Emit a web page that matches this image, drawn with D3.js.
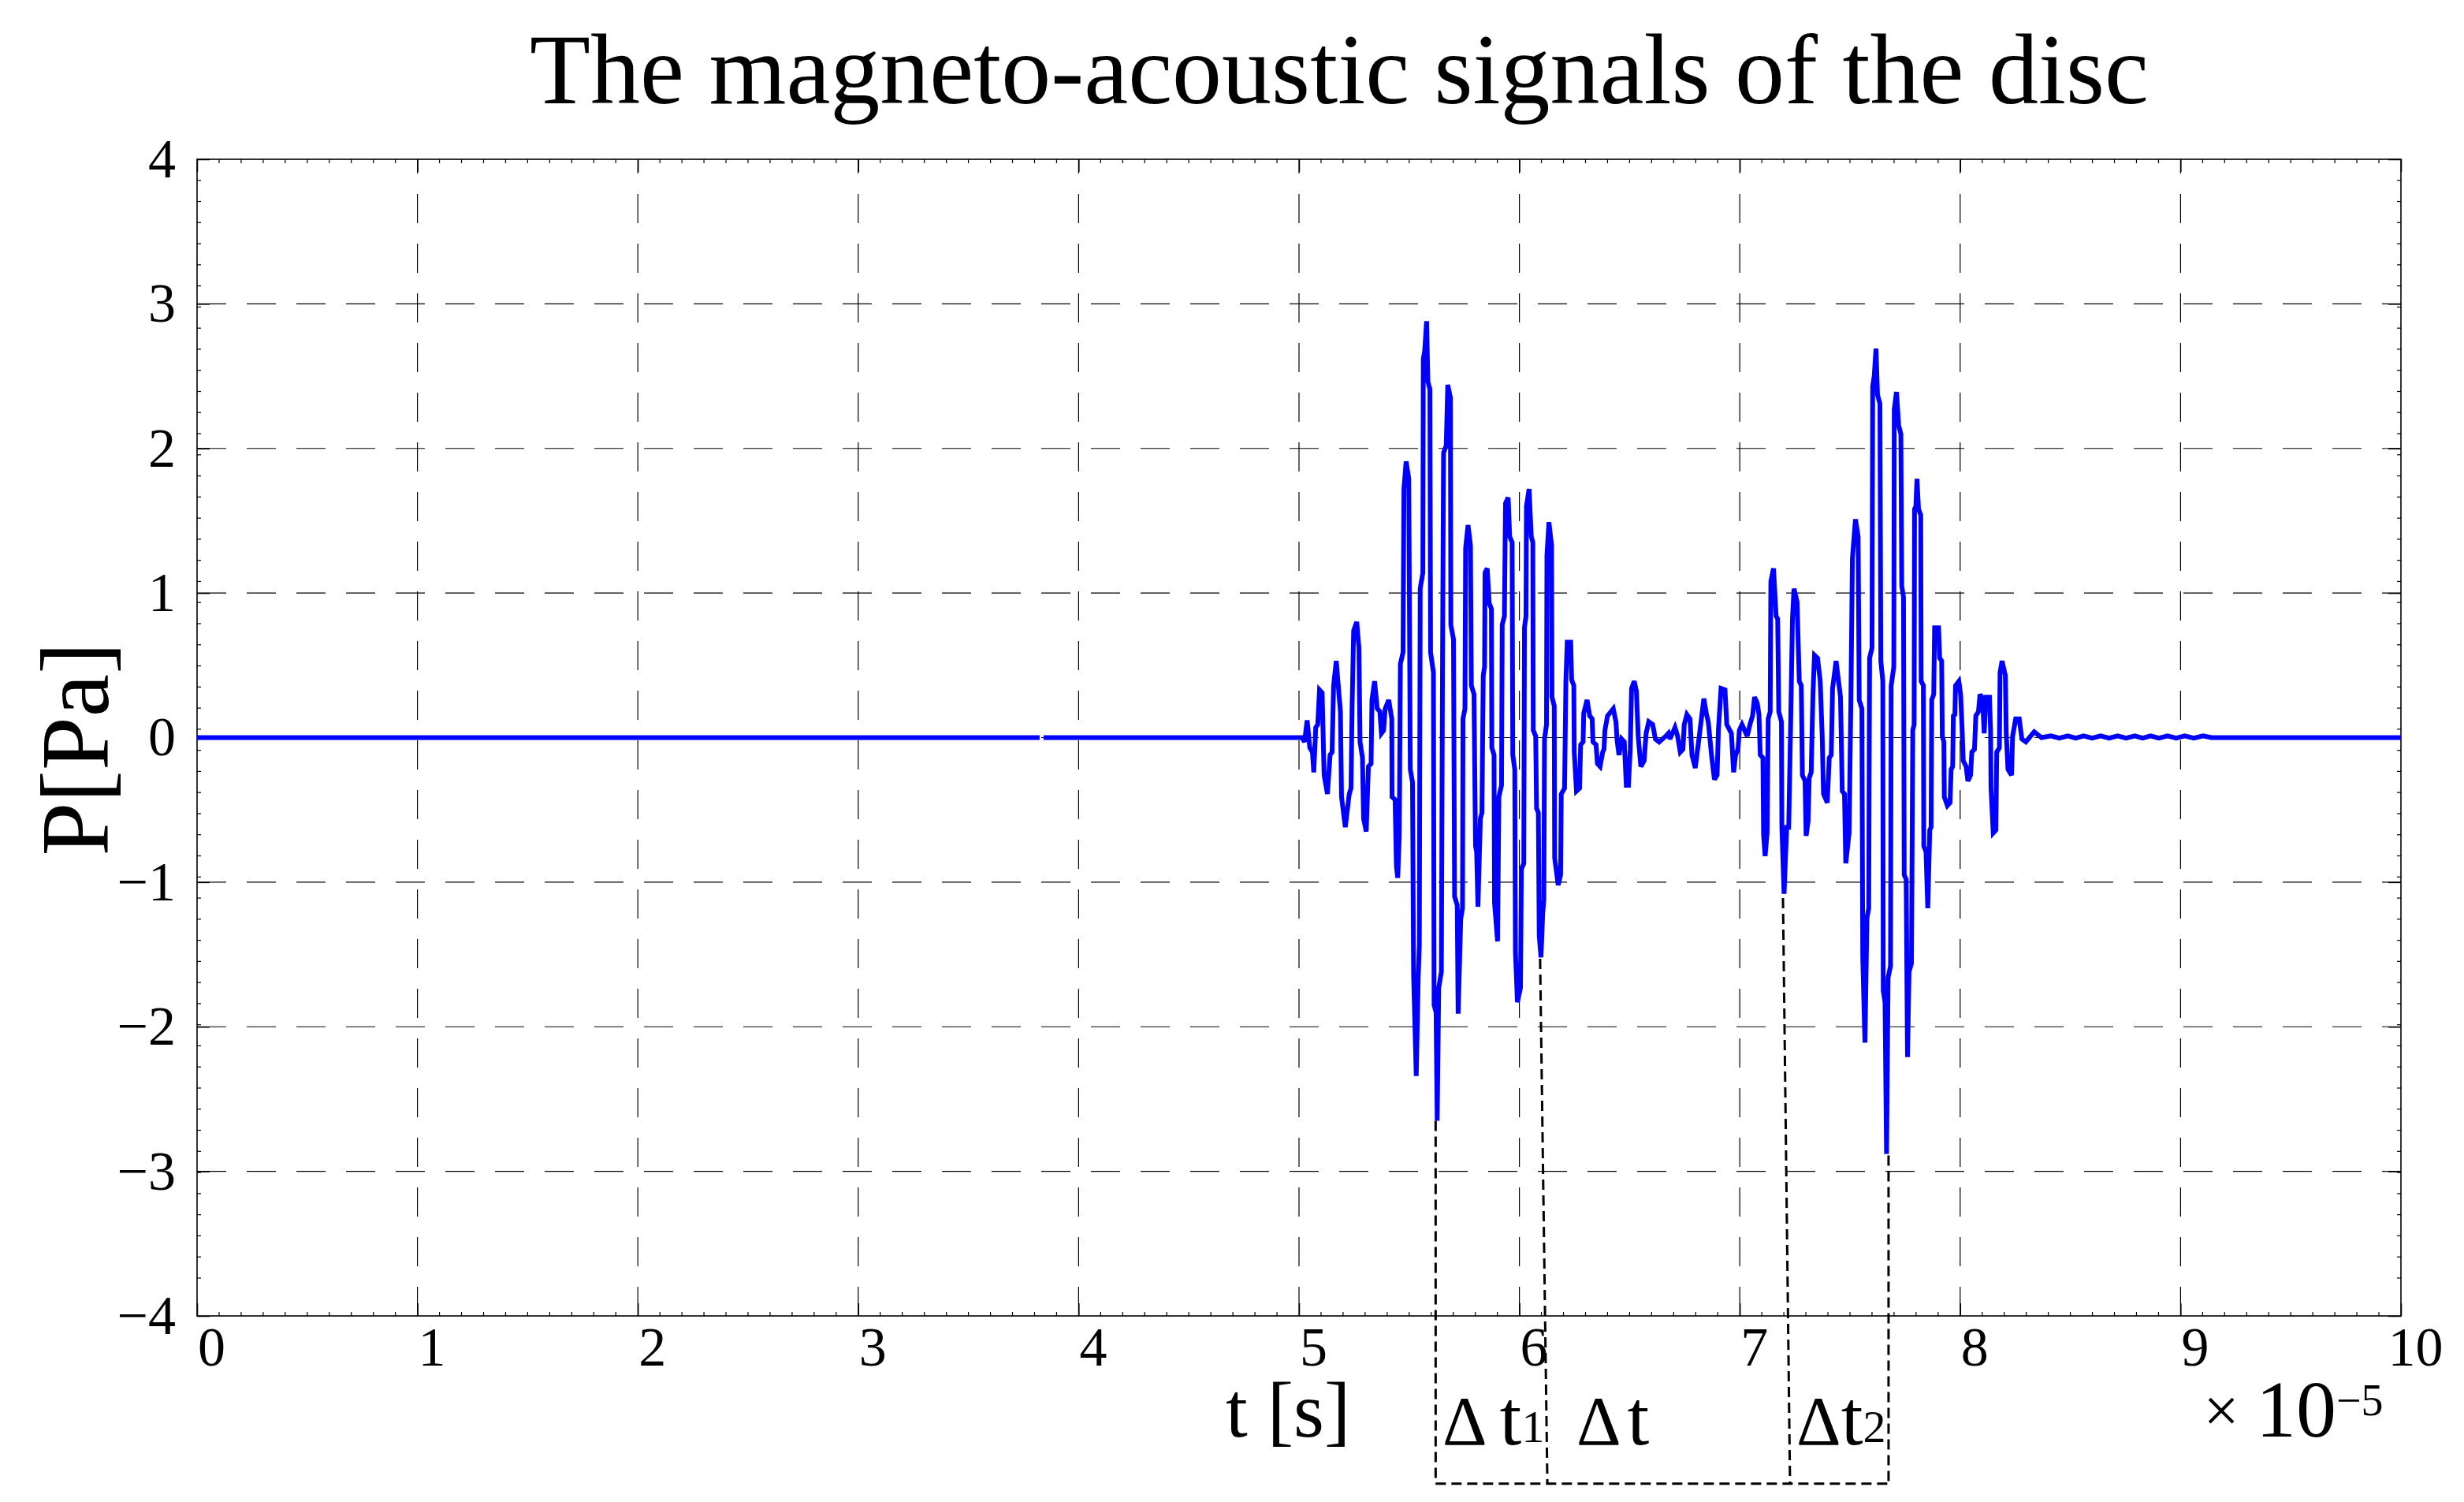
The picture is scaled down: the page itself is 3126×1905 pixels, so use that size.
<!DOCTYPE html>
<html>
<head>
<meta charset="utf-8">
<script src="https://cdn.jsdelivr.net/npm/d3@7"></script>
<style>
html,body{margin:0;padding:0;background:#fff;}
svg{display:block;}
</style>
</head>
<body>
<script>
// ---------------- DATA ----------------
const titleText = "The magneto-acoustic signals of the disc";
const xLabelText = "t [s]";
const yLabelText = "P[Pa]";
const xExponentBase = "10";
const xExponentPower = "\u22125";
const xTicks = [0, 1, 2, 3, 4, 5, 6, 7, 8, 9, 10];
const yTicks = [-4, -3, -2, -1, 0, 1, 2, 3, 4];

// signal: [time (×1e-5 s), pressure (Pa)]; null pressure = gap in the trace
const signal = [
[0,0],[3.823,0],[3.832,null],[3.841,0],
[5.013,0],[5.025,-0.03],[5.037,0.12],[5.049,-0.07],[5.061,-0.10],[5.067,-0.24],[5.076,0.07],[5.085,0.09],[5.093,0.33],[5.105,0.31],
[5.114,-0.26],[5.129,-0.39],[5.141,-0.12],[5.150,-0.10],[5.157,0.36],[5.169,0.53],[5.176,0.40],[5.188,0.18],[5.193,-0.41],[5.210,-0.62],
[5.228,-0.39],[5.236,-0.35],[5.241,0.22],[5.248,0.74],[5.262,0.80],[5.272,0.62],[5.277,-0.03],[5.288,-0.14],[5.293,-0.56],[5.305,-0.65],
[5.315,-0.20],[5.327,-0.18],[5.331,0.26],[5.343,0.39],[5.355,0.20],[5.367,0.18],[5.374,0.03],[5.384,0.05],[5.391,0.20],[5.407,0.26],
[5.421,0.13],[5.422,-0.41],[5.436,-0.43],[5.442,-0.89],[5.448,-0.97],[5.455,-0.68],[5.460,0.51],[5.472,0.59],[5.476,1.72],[5.486,1.91],
[5.498,1.79],[5.505,-0.22],[5.515,-0.31],[5.520,-1.64],[5.532,-2.34],[5.541,-1.66],[5.546,-1.43],[5.550,1.03],[5.562,1.14],[5.564,2.62],
[5.570,2.67],[5.579,2.88],[5.585,2.46],[5.594,2.41],[5.597,0.59],[5.610,0.45],[5.613,-1.85],[5.622,-1.90],[5.627,-2.65],[5.634,-1.73],
[5.646,-1.62],[5.651,0.43],[5.656,1.97],[5.668,2.02],[5.675,2.44],[5.687,2.35],[5.689,0.78],[5.701,0.68],[5.706,-1.10],[5.718,-1.16],
[5.722,-1.91],[5.734,-1.25],[5.742,-1.18],[5.744,0.13],[5.753,0.20],[5.756,1.31],[5.767,1.47],[5.778,1.33],[5.782,0.36],[5.794,0.30],
[5.801,-0.75],[5.806,-0.79],[5.812,-1.17],[5.823,-0.56],[5.830,-0.52],[5.836,0.43],[5.842,0.49],[5.844,1.14],[5.854,1.17],[5.863,0.93],
[5.873,0.89],[5.875,-0.07],[5.885,-0.12],[5.887,-1.14],[5.901,-1.41],[5.907,-0.41],[5.919,-0.33],[5.922,0.78],[5.932,0.84],[5.937,1.62],
[5.949,1.66],[5.956,1.39],[5.967,1.35],[5.970,-0.12],[5.979,-0.22],[5.982,-1.48],[5.991,-1.83],[6.005,-1.73],[6.009,-0.91],[6.020,-0.87],
[6.023,0.76],[6.030,0.84],[6.032,1.60],[6.044,1.72],[6.054,1.39],[6.061,1.35],[6.063,0.05],[6.074,0.01],[6.078,-0.49],[6.086,-0.52],
[6.090,-1.37],[6.098,-1.52],[6.106,-1.21],[6.111,-1.12],[6.114,-0.01],[6.123,0.09],[6.125,1.26],[6.134,1.49],[6.146,1.33],[6.148,0.28],
[6.158,0.22],[6.160,-0.83],[6.176,-1.02],[6.187,-0.95],[6.190,-0.39],[6.205,-0.35],[6.211,0.39],[6.217,0.66],[6.233,0.66],[6.237,0.40],
[6.247,0.36],[6.249,-0.10],[6.259,-0.37],[6.273,-0.35],[6.278,-0.05],[6.289,-0.03],[6.292,0.17],[6.307,0.26],
[6.319,0.15],[6.330,0.13],[6.334,-0.03],[6.348,-0.05],[6.354,-0.18],[6.366,-0.20],[6.378,-0.10],[6.384,-0.08],[6.388,0.05],[6.400,0.15],
[6.426,0.20],[6.438,0.11],[6.444,-0.03],[6.452,-0.12],[6.464,-0.01],[6.476,-0.03],[6.485,-0.33],[6.495,-0.33],[6.503,-0.08],[6.509,0.34],
[6.521,0.39],[6.531,0.32],[6.539,0.01],[6.551,-0.20],[6.566,-0.16],[6.575,0.03],[6.587,0.11],[6.605,0.09],[6.617,-0.01],[6.634,-0.03],
[6.664,0.01],[6.676,0.03],[6.683,-0.01],[6.706,0.07],[6.718,0.01],[6.730,-0.10],[6.742,-0.08],[6.748,0.09],[6.760,0.16],[6.774,0.13],
[6.783,-0.12],[6.798,-0.21],[6.807,-0.10],[6.813,-0.03],[6.837,0.27],[6.849,0.16],[6.857,0.11],[6.873,-0.14],[6.885,-0.29],[6.897,-0.26],
[6.903,0.05],[6.915,0.34],[6.933,0.33],[6.941,0.09],[6.962,0.03],[6.972,-0.24],[6.981,-0.12],[6.992,-0.08],[6.998,0.05],[7.010,0.09],
[7.034,0.01],[7.046,0.09],[7.058,0.15],[7.067,0.28],[7.079,0.24],[7.087,0.16],[7.093,-0.12],[7.105,-0.14],[7.108,-0.67],[7.115,-0.82],
[7.124,-0.66],[7.129,0.13],[7.138,0.18],[7.141,1.08],[7.153,1.17],[7.165,0.84],[7.172,0.82],[7.177,0.18],[7.189,0.11],[7.191,-0.62],
[7.201,-1.08],[7.213,-0.62],[7.222,-0.62],[7.231,0.11],[7.239,0.82],[7.246,1.03],[7.260,0.94],[7.270,0.39],[7.279,0.36],[7.284,-0.26],
[7.296,-0.30],[7.301,-0.68],[7.310,-0.58],[7.315,-0.28],[7.324,-0.24],[7.332,0.30],[7.339,0.57],[7.353,0.55],[7.365,0.39],[7.374,0.01],
[7.380,-0.39],[7.397,-0.45],[7.406,-0.14],[7.415,-0.12],[7.421,0.34],[7.437,0.53],[7.457,0.28],[7.465,-0.37],[7.475,-0.39],[7.481,-0.87],
[7.496,-0.66],[7.504,0.24],[7.511,1.24],[7.525,1.51],[7.537,1.39],[7.542,0.26],[7.554,0.20],[7.558,-1.52],[7.568,-2.11],[7.577,-1.25],
[7.585,-1.18],[7.589,0.55],[7.600,0.62],[7.603,2.43],[7.610,2.50],[7.618,2.69],[7.625,2.37],[7.636,2.31],[7.640,0.53],[7.649,0.39],
[7.651,-1.75],[7.659,-1.83],[7.666,-2.88],[7.673,-1.66],[7.684,-1.58],[7.687,0.36],[7.699,0.49],[7.701,2.27],[7.711,2.39],[7.721,2.16],
[7.731,2.10],
[7.735,1.05],[7.743,0.97],[7.746,-0.95],[7.755,-0.98],[7.761,-2.21],[7.768,-1.62],[7.779,-1.56],[7.785,0.05],[7.791,0.09],[7.793,1.58],
[7.799,1.60],[7.804,1.79],[7.811,1.58],[7.821,1.54],[7.823,0.39],[7.833,0.36],[7.835,-0.75],[7.845,-0.79],[7.853,-1.18],[7.862,-0.64],
[7.868,-0.62],[7.871,0.26],[7.880,0.30],[7.884,0.76],[7.902,0.76],[7.907,0.55],[7.916,0.53],[7.919,0.01],[7.926,-0.03],[7.928,-0.41],
[7.942,-0.47],[7.954,-0.45],[7.959,-0.22],[7.966,-0.20],[7.969,0.15],[7.976,0.16],[7.979,0.36],[7.994,0.39],[8.002,0.30],[8.008,0.09],
[8.014,-0.16],[8.027,-0.20],[8.035,-0.30],[8.047,-0.26],[8.053,-0.10],[8.065,-0.08],[8.071,0.15],[8.083,0.18],[8.090,0.30],[8.102,0.26],
[8.109,0.03],[8.116,0.28],[8.133,0.28],[8.138,0.05],[8.140,-0.35],[8.150,-0.66],[8.162,-0.64],[8.166,-0.10],[8.178,-0.07],[8.181,0.45],
[8.190,0.53],[8.205,0.43],[8.209,0.03],[8.217,-0.22],[8.233,-0.26],[8.238,0.01],[8.252,0.13],[8.268,0.13],[8.280,-0.01],[8.298,-0.03],
[8.336,0.04],[8.369,0.00],
[8.411,0.012],[8.450,-0.004],[8.488,0.012],[8.524,-0.004],[8.560,0.012],[8.599,-0.004],[8.637,0.012],[8.676,-0.004],[8.715,0.012],[8.753,-0.004],
[8.792,0.012],[8.828,-0.004],[8.864,0.012],[8.902,-0.004],[8.941,0.012],[8.980,-0.004],[9.019,0.012],[9.060,-0.004],[9.102,0.012],[9.140,0],
[10,0]
];

// interval markers: dashed drop lines from signal troughs down to a common bracket level
const markerTopTime    = [5.620, 6.094, 7.196, 7.675];
const markerTopValue   = [-2.65, -1.53, -1.11, -2.89];
const markerBottomTime = [5.620, 6.127, 7.228, 7.675];
const bracketLevel = -5.16;
const intervalLabelLevel = -4.89;
const intervalLabels = [
  {time: 5.651, delta: "\u0394", t: "t", sub: "1", gap: 16},
  {time: 6.259, delta: "\u0394", t: "t", sub: "",  gap: 8},
  {time: 7.257, delta: "\u0394", t: "t", sub: "2", gap: 0}
];

// ---------------- CHART ----------------
const W = 3126, H = 1905;
const FONT = '"Liberation Serif","Times New Roman",Times,serif';
const x = d3.scaleLinear().domain([0, 10]).range([250, 3046]);
const y = d3.scaleLinear().domain([-4, 4]).range([1669, 202]);

const svg = d3.select("body").append("svg")
  .attr("width", W).attr("height", H).attr("viewBox", `0 0 ${W} ${H}`);
svg.append("rect").attr("width", W).attr("height", H).attr("fill", "#fff");

// grid
const grid = svg.append("g").attr("fill", "none").attr("stroke", "#000")
  .attr("stroke-width", 1.2).attr("stroke-dasharray", "37,26");
grid.selectAll("line.vg").data(xTicks.filter(d => d > 0 && d < 10)).join("line")
  .attr("class", "vg")
  .attr("x1", d => x(d)).attr("x2", d => x(d))
  .attr("y1", y(-4)).attr("y2", y(4));
grid.selectAll("line.hg").data(yTicks.filter(d => d > -4 && d < 4)).join("line")
  .attr("class", "hg")
  .attr("x1", x(0)).attr("x2", x(10))
  .attr("y1", d => y(d)).attr("y2", d => y(d));

// minor ticks
const xMinor = d3.range(1, 100).map(i => i / 10).filter(v => Math.abs(v - Math.round(v)) > 1e-6);
const yMinor = d3.range(1, 54).map(i => 4 - i * 0.146).filter(v => v > -4);
const minor = svg.append("g").attr("stroke", "#000").attr("stroke-width", 1.2);
minor.selectAll("line.xb").data(xMinor).join("line").attr("class", "xb")
  .attr("x1", d => x(d)).attr("x2", d => x(d)).attr("y1", y(-4)).attr("y2", y(-4) - 5);
minor.selectAll("line.xt").data(xMinor).join("line").attr("class", "xt")
  .attr("x1", d => x(d)).attr("x2", d => x(d)).attr("y1", y(4)).attr("y2", y(4) + 5);
minor.selectAll("line.yl").data(yMinor).join("line").attr("class", "yl")
  .attr("x1", x(0)).attr("x2", x(0) + 5).attr("y1", d => y(d)).attr("y2", d => y(d));
minor.selectAll("line.yr").data(yMinor).join("line").attr("class", "yr")
  .attr("x1", x(10)).attr("x2", x(10) - 5).attr("y1", d => y(d)).attr("y2", d => y(d));

// axes
const fmt = d => d < 0 ? "\u2212" + Math.abs(d) : String(d);
function styleAxis(g) {
  g.select(".domain").remove();
  g.selectAll(".tick line").attr("stroke", "#000").attr("stroke-width", 1.5);
  g.selectAll("text").attr("font-family", FONT).attr("font-size", 70).attr("fill", "#000");
}
const gx = svg.append("g").attr("transform", `translate(0,${y(-4)})`)
  .call(d3.axisBottom(x).tickValues(xTicks).tickFormat(fmt).tickSizeInner(-16).tickSizeOuter(0).tickPadding(13));
styleAxis(gx);
gx.selectAll("text").attr("dx", 18);
const gxt = svg.append("g").attr("transform", `translate(0,${y(4)})`)
  .call(d3.axisTop(x).tickValues(xTicks).tickFormat(() => "").tickSizeInner(-16).tickSizeOuter(0));
styleAxis(gxt);
const gy = svg.append("g").attr("transform", `translate(${x(0)},0)`)
  .call(d3.axisLeft(y).tickValues(yTicks).tickFormat(fmt).tickSizeInner(-16).tickSizeOuter(0).tickPadding(27));
styleAxis(gy);
const gyr = svg.append("g").attr("transform", `translate(${x(10)},0)`)
  .call(d3.axisRight(y).tickValues(yTicks).tickFormat(() => "").tickSizeInner(-16).tickSizeOuter(0));
styleAxis(gyr);

// frame
svg.append("rect").attr("x", x(0)).attr("y", y(4))
  .attr("width", x(10) - x(0)).attr("height", y(-4) - y(4))
  .attr("fill", "none").attr("stroke", "#000").attr("stroke-width", 1.6);

// signal
const line = d3.line()
  .defined(d => d[1] !== null)
  .x(d => x(d[0])).y(d => y(d[1]));
svg.append("path").datum(signal)
  .attr("d", line)
  .attr("fill", "none").attr("stroke", "#0000ff")
  .attr("stroke-width", 6).attr("stroke-linejoin", "miter").attr("stroke-miterlimit", 3);

// interval markers
const ann = svg.append("g").attr("fill", "none").attr("stroke", "#000")
  .attr("stroke-width", 3).attr("stroke-dasharray", "13,7");
ann.selectAll("line.drop").data(markerTopTime.map((t, i) => i)).join("line")
  .attr("class", "drop")
  .attr("x1", i => x(markerTopTime[i])).attr("y1", i => y(markerTopValue[i]))
  .attr("x2", i => x(markerBottomTime[i])).attr("y2", y(bracketLevel));
ann.append("line")
  .attr("x1", x(markerBottomTime[0])).attr("x2", x(markerBottomTime[markerBottomTime.length - 1]))
  .attr("y1", y(bracketLevel)).attr("y2", y(bracketLevel));

const labs = svg.append("g").attr("font-family", FONT).attr("fill", "#000");
intervalLabels.forEach(l => {
  const tx = labs.append("text").attr("x", x(l.time)).attr("y", y(intervalLabelLevel));
  tx.append("tspan").attr("font-size", 88).text(l.delta);
  tx.append("tspan").attr("font-size", 100).attr("dx", l.gap).text(l.t);
  if (l.sub) tx.append("tspan").attr("font-size", 58).attr("dy", -3).text(l.sub);
});

// title & labels
svg.append("text").attr("x", 1699).attr("y", 131).attr("text-anchor", "middle")
  .attr("font-family", FONT).attr("font-size", 126).attr("fill", "#000").text(titleText);
svg.append("text").attr("x", 1555).attr("y", 1822)
  .attr("font-family", FONT).attr("font-size", 100).attr("fill", "#000").text(xLabelText);
svg.append("text").attr("transform", "translate(137,950) rotate(-90)").attr("text-anchor", "middle")
  .attr("font-family", FONT).attr("font-size", 122).attr("fill", "#000").text(yLabelText);

const ex = svg.append("g").attr("font-family", FONT).attr("fill", "#000");
ex.append("text").attr("x", 2818).attr("y", 1816).attr("text-anchor", "middle")
  .attr("font-size", 80).text("\u00d7");
ex.append("text").attr("x", 2862).attr("y", 1822).attr("font-size", 102).text(xExponentBase);
ex.append("text").attr("x", 2964).attr("y", 1795).attr("font-size", 56).text(xExponentPower);
</script>
</body>
</html>
